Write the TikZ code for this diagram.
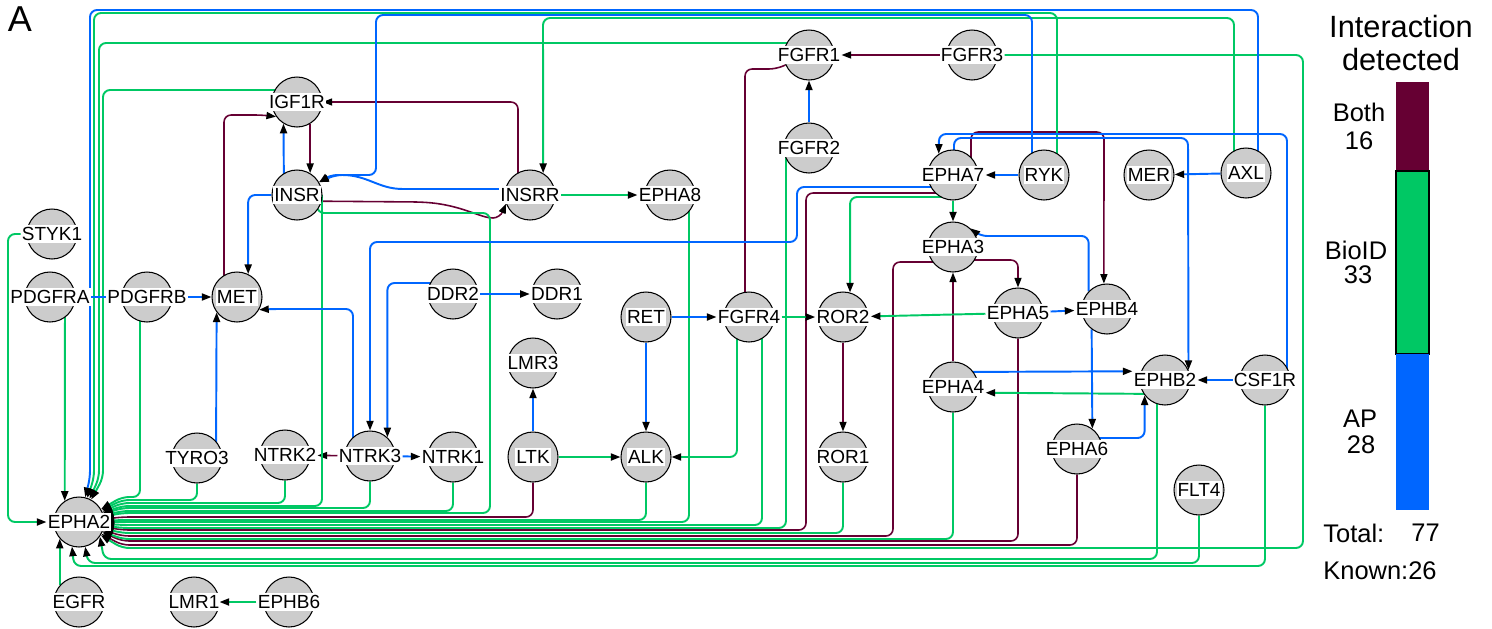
\documentclass[tikz,border=0pt]{standalone}
\usepackage{fontspec}
\setmainfont{Liberation Sans}
\usepackage{tikz}
\usetikzlibrary{arrows.meta,calc,backgrounds}
\definecolor{bothc}{RGB}{102,0,51}
\definecolor{bioidc}{RGB}{0,200,100}
\definecolor{apc}{RGB}{0,102,255}
\definecolor{nodegray}{RGB}{204,204,204}
\newcommand{\genefont}{\fontsize{10.8}{12}\selectfont}
\newcommand{\legfont}{\fontsize{14.5}{16}\selectfont}

\begin{document}
\begin{tikzpicture}[
  x=0.02cm, y=-0.02cm,
  gene/.style={
    circle, draw=black, line width=0.6pt, fill=nodegray,
    minimum size=1cm, inner sep=0pt,
    label={[genetxt,name=#1t]center:#1}
  },
  genetxt/.style={fill=white, inner xsep=0.6pt, inner ysep=1.2pt, font=\genefont},
  link/.style={rounded corners=4pt, line width=1.1pt},
  bothline/.style={link, draw=bothc, line width=0.9pt},
  bioidline/.style={link, draw=bioidc},
  apline/.style={link, draw=apc},
  hit/.style={-{Triangle[black,length=5.5pt,width=4pt]}},
  legtxt/.style={font=\legfont, inner sep=0pt}
]
\useasboundingbox (0,0) rectangle (1492,629);

% genes, left block
\node[gene=STYK1] (STYK1) at (52,234) {};
\node[gene=PDGFRA] (PDGFRA) at (50,297) {};
\node[gene=PDGFRB] (PDGFRB) at (147,297) {};
\node[gene=MET] (MET) at (237,297) {};
\node[gene=IGF1R] (IGF1R) at (297,102) {};
\node[gene=INSR] (INSR) at (297,195) {};
\node[gene=INSRR] (INSRR) at (530,195) {};
\node[gene=EPHA8] (EPHA8) at (670,195) {};
\node[gene=DDR2] (DDR2) at (453,294) {};
\node[gene=DDR1] (DDR1) at (557,294) {};
\node[gene=TYRO3] (TYRO3) at (197,458) {};
\node[gene=NTRK2] (NTRK2) at (285,455) {};
\node[gene=NTRK3] (NTRK3) at (370,456) {};
\node[gene=NTRK1] (NTRK1) at (453,457) {};
\node[gene=EPHA2] (EPHA2) at (79,522) {};
\node[gene=EGFR] (EGFR) at (79,602) {};
\node[gene=LMR1] (LMR1) at (194,602) {};
\node[gene=EPHB6] (EPHB6) at (289,602) {};

% genes, middle block
\node[gene=FGFR1] (FGFR1) at (809,55) {};
\node[gene=FGFR3] (FGFR3) at (972,55) {};
\node[gene=FGFR2] (FGFR2) at (809,148) {};
\node[gene=RET] (RET) at (646,317) {};
\node[gene=FGFR4] (FGFR4) at (749,317) {};
\node[gene=ROR2] (ROR2) at (843,317) {};
\node[gene=LMR3] (LMR3) at (533,363) {};
\node[gene=LTK] (LTK) at (533,457) {};
\node[gene=ALK] (ALK) at (646,457) {};
\node[gene=ROR1] (ROR1) at (843,457) {};

% genes, right block
\node[gene=EPHA7] (EPHA7) at (953,175) {};
\node[gene=RYK] (RYK) at (1044,175) {};
\node[gene=MER] (MER) at (1149,175) {};
\node[gene=AXL] (AXL) at (1246,173) {};
\node[gene=EPHA3] (EPHA3) at (953,247) {};
\node[gene=EPHA5] (EPHA5) at (1018,313) {};
\node[gene=EPHB4] (EPHB4) at (1107,309) {};
\node[gene=EPHA4] (EPHA4) at (953,387) {};
\node[gene=EPHB2] (EPHB2) at (1165,380) {};
\node[gene=CSF1R] (CSF1R) at (1265,380) {};
\node[gene=EPHA6] (EPHA6) at (1077,449) {};
\node[gene=FLT4] (FLT4) at (1199,490) {};

% panel letter and legend
\node[font=\fontsize{20.5}{22}\selectfont, inner sep=0pt] (panel) at (20,19) {A};
\node[font=\fontsize{17.5}{19}\selectfont, align=center, inner sep=0pt] (legtitle) at (1401,43) {Interaction\\detected};
\fill[bothc] (1396,82) rectangle (1429,171);
\draw[fill=bioidc, line width=0.6pt] (1396,171) rectangle (1429,354);
\fill[apc] (1396,354) rectangle (1429,510);
\node[legtxt] (bothlab) at (1359,112) {Both};
\node[legtxt] (bothnum) at (1359,141) {16};
\node[legtxt] (bioidlab) at (1356,250) {BioID};
\node[legtxt] (bioidnum) at (1358,275) {33};
\node[legtxt] (aplab) at (1360,419) {AP};
\node[legtxt] (apnum) at (1361,445) {28};
\node[legtxt, anchor=west] (totallab) at (1323,533) {Total:};
\node[legtxt, anchor=west] (totalnum) at (1411,533) {77};
\node[legtxt, anchor=west] (knownlab) at (1323,571) {Known:26};

\begin{scope}[on background layer]
% detected by both
\draw[bothline, hit] (FGFR3t) -- (FGFR1t);
\draw[bothline] ($(FGFR4)+(-4,0)$) |- (776,69) -- (FGFR1);
\draw[bothline, hit] ($(INSRR)+(-12,0)$) |- (IGF1R);
\draw[bothline, hit] ($(MET)+(-13,0)$) |- (262,115) -- (IGF1R.215);
\draw[bothline, hit] (IGF1R.-59) -- (INSR.59);
\draw[bothline, hit] ($(INSR)+(0,6)$) -- (420,202) .. controls (462,205) and (480,218) .. (500,218) -- (INSRR.200);
\draw[bothline, hit] (NTRK3t) -- (NTRK2t);
\draw[bothline, hit] (LTK) |- (122,517) -- (EPHA2);
\draw[bothline, hit] ($(EPHA7)+(0,18)$) -| (806,530) -- (122,530) -- (EPHA2);
\draw[bothline, hit] (ROR2) -- (ROR1);
\draw[bothline, hit] ($(EPHA3)+(0,15)$) -| (893,536) -- (122,536) -- (EPHA2);
\draw[bothline, hit] (EPHA4) -- (EPHA3);
\draw[bothline, hit] ($(EPHA3)+(0,13)$) -| (EPHA5);
\draw[bothline, hit] (EPHA5) |- (122,541) -- (EPHA2);
\draw[bothline, hit] (EPHA6) |- (122,545) -- (EPHA2);
\draw[bothline, hit] ($(EPHA7)+(18,0)$) |- (1104,132) -- (EPHB4.97);

% BioID only
\draw[bioidline, hit] ($(RYK)+(13,0)$) |- (94,13) -- (94,478) -- (EPHA2);
\draw[bioidline, hit] ($(AXL)+(-12,0)$) |- (543,18) -- (INSRR.59);
\draw[bioidline, hit] ($(FGFR1)+(0,-12)$) -| (99,478) -- (EPHA2);
\draw[bioidline, hit] (FGFR3t) -| (1303,548) -- (122,548) -- (EPHA2);
\draw[bioidline, hit] ($(IGF1R)+(0,-12)$) -| (103,478) -- (EPHA2);
\draw[bioidline, hit] ($(INSR)+(25,0)$) |- (122,506) -- (EPHA2);
\draw[bioidline, hit] ($(INSR)+(20,0)$) |- (490,213) |- (122,513) -- (EPHA2);
\draw[bioidline, hit] (INSRRt) -- (EPHA8t);
\draw[bioidline, hit] ($(EPHA8)+(19,0)$) |- (122,522) -- (EPHA2);
\draw[bioidline, hit] ($(PDGFRA)+(15,0)$) -- (EPHA2.124);
\draw[bioidline, hit] (STYK1t) -| (8,522) -- (EPHA2t);
\draw[bioidline, hit] ($(PDGFRB)+(-7,0)$) |- (122,497) -- (EPHA2);
\draw[bioidline, hit] (TYRO3) |- (122,500) -- (EPHA2);
\draw[bioidline, hit] (NTRK2) |- (122,503) -- (EPHA2);
\draw[bioidline, hit] (NTRK3) |- (122,508) -- (EPHA2);
\draw[bioidline, hit] (NTRK1) |- (122,511) -- (EPHA2);
\draw[bioidline, hit] (LTK) -- (ALK);
\draw[bioidline, hit] ($(FGFR4)+(-12,0)$) |- (ALK);
\draw[bioidline, hit] (ALK) |- (122,520) -- (EPHA2);
\draw[bioidline, hit] ($(FGFR4)+(13,0)$) |- (122,525) -- (EPHA2);
\draw[bioidline, hit] ($(FGFR2)+(-23,0)$) |- (122,528) -- (EPHA2);
\draw[bioidline, hit] (FGFR4t) -- (ROR2t);
\draw[bioidline, hit] ($(EPHA7)+(0,22)$) -| (ROR2.74);
\draw[bioidline, hit] (EPHA5t) -- (ROR2t);
\draw[bioidline, hit] (ROR1) |- (122,533) -- (EPHA2);
\draw[bioidline, hit] (EPHA4) |- (122,539) -- (EPHA2);
\draw[bioidline, hit] ($(EPHB2)+(-8,0)$) |- (104,559) -- (EPHA2.-35);
\draw[bioidline, hit] (FLT4) |- (88,563) -- (EPHA2.-76);
\draw[bioidline, hit] (CSF1R) |- (74,566) -- (EPHA2.-106);
\draw[bioidline, hit] (EPHA7) -- (EPHA3);
\draw[bioidline, hit] ($(EPHB2)+(0,14)$) -- (EPHA4t.-10);
\draw[bioidline, hit] (EGFR.139) -- (EPHA2.-139);
\draw[bioidline, hit] (EPHB6t) -- (LMR1);

% AP only
\draw[apline, hit] ($(AXL)+(12,0)$) |- (90,10) -- (90,478) -- (EPHA2);
\draw[apline, hit] ($(RYK)+(-12,0)$) |- (376,15) |- (330,175) -- (INSR.30);
\draw[apline, hit] ($(INSRR)+(0,-6)$) -- (410,189) .. controls (378,189) and (368,175) .. (335,175) -- (INSR.30);
\draw[apline, hit] ($(INSR)+(-13,0)$) -- (IGF1R.-122);
\draw[apline, hit] (INSR) -| (MET.64);
\draw[apline, hit] ($(EPHA7)+(0,12)$) -| (797,242) -| (NTRK3);
\draw[apline, hit] ($(DDR2)+(0,-11)$) -| (NTRK3.47);
\draw[apline, hit] (DDR2t) -- (DDR1t);
\draw[apline, hit] ($(NTRK3)+(-17,0)$) |- (272,309) -- (MET.-30);
\draw[apline] (PDGFRAt) -- (PDGFRBt);
\draw[apline, hit] (PDGFRBt) -- (MET);
\draw[apline, hit] ($(TYRO3)+(19,0)$) -- (MET.-143);
\draw[apline, hit] (NTRK3t) -- (NTRK1t);
\draw[apline, hit] (LTK) -- (LMR3);
\draw[apline, hit] (RET) -- (ALK);
\draw[apline, hit] (RET) -- (FGFR4t);
\draw[apline, hit] (FGFR2) -- (FGFR1);
\draw[apline, hit] (EPHA5t) -- (EPHB4t);
\draw[apline, hit] (EPHB4.-127) -- (EPHA6.53);
\draw[apline, hit] (EPHB4.136) |- (980,236) -- (EPHA3.47);
\draw[apline, hit] ($(CSF1R)+(22,0)$) |- (939,134) -- (EPHA7.124);
\draw[apline, hit] ($(EPHA7)+(1,0)$) |- (1188,138) -- (EPHB2.23);
\draw[apline, hit] (RYK) -- (EPHA7t);
\draw[apline, hit] (AXL) -- (MER);
\draw[apline, hit] ($(EPHA4)+(0,-15)$) -- (EPHB2t.165);
\draw[apline, hit] ($(EPHA6)+(0,-11)$) -| (EPHB2.-143);
\draw[apline, hit] (CSF1Rt) -- (EPHB2t);
\end{scope}

\end{tikzpicture}
\end{document}
